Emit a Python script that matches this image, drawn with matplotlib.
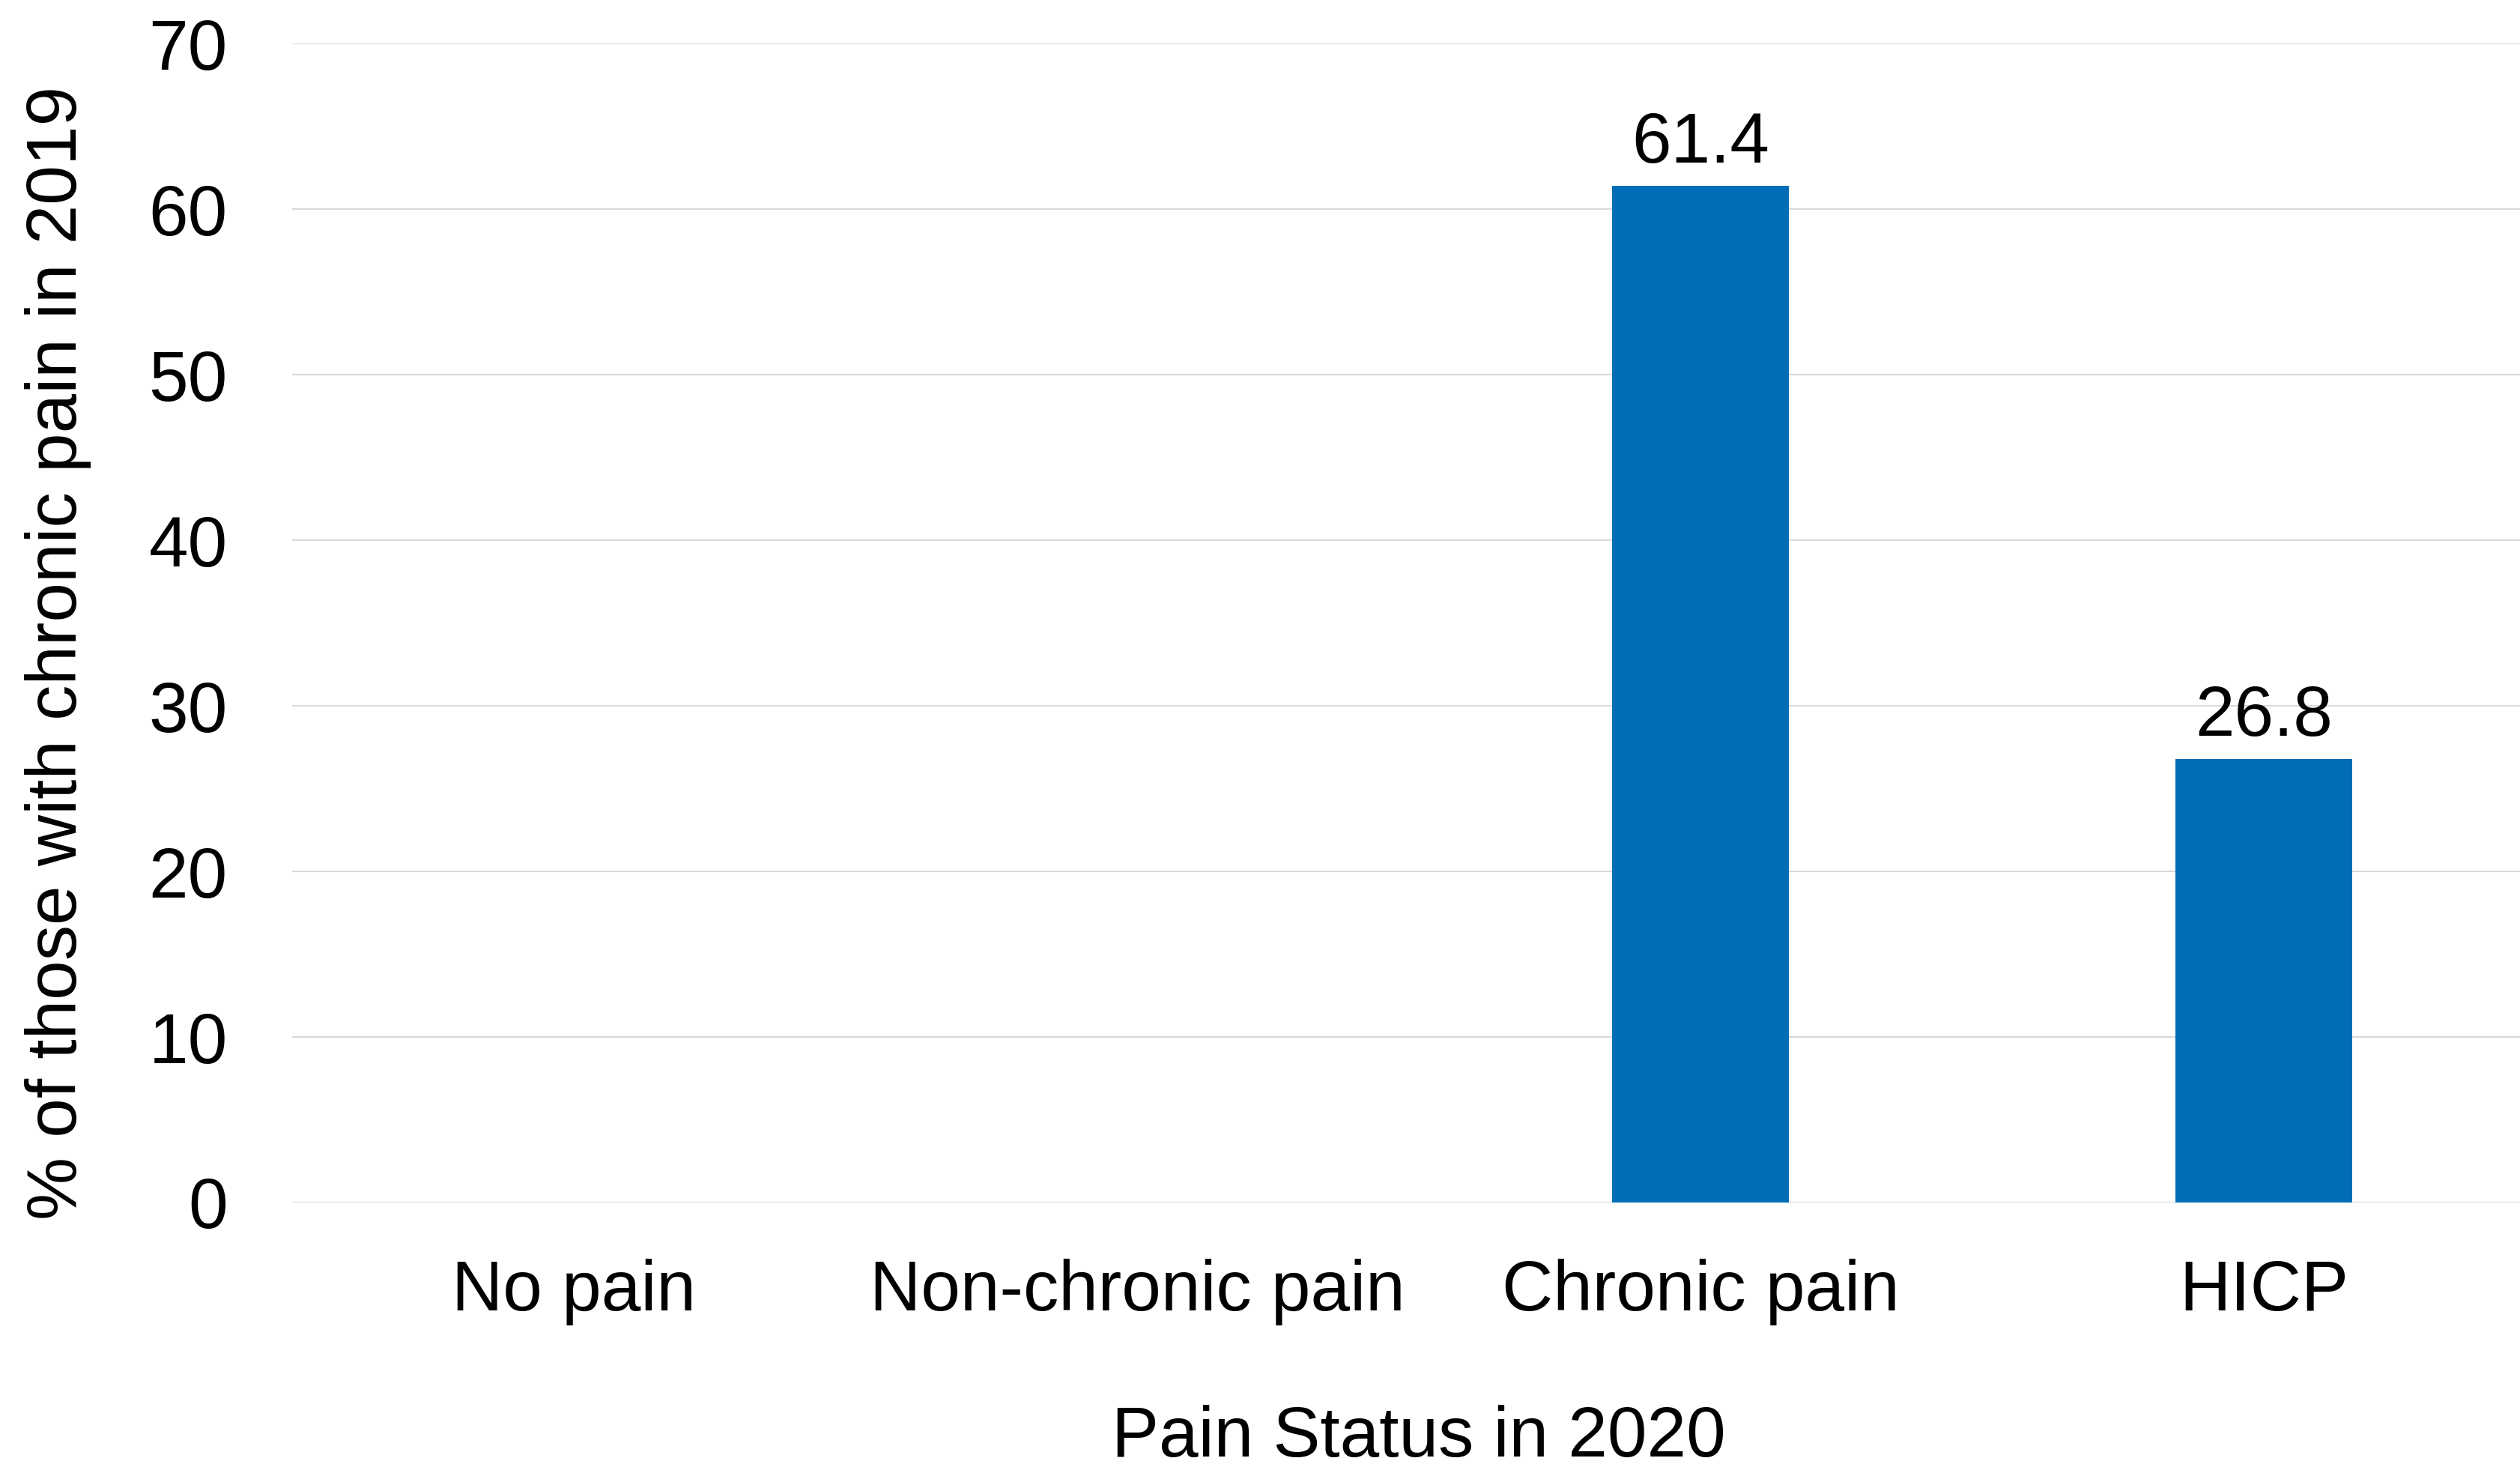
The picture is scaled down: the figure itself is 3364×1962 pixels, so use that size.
"""Bar chart of 2020 pain status among those with chronic pain in 2019."""
import matplotlib

matplotlib.use("Agg")
import matplotlib.pyplot as plt

# %% Data
categories = ["No pain", "Non-chronic pain", "Chronic pain", "HICP"]
percent = [0.0, 0.0, 61.4, 26.8]
y_ticks = [0, 10, 20, 30, 40, 50, 60, 70]

bar_color = "#006EB6"
grid_color = "#D9D9D9"
font_size = 68

plt.rcParams["font.family"] = ["Liberation Sans", "DejaVu Sans"]

# %% Figure
fig = plt.figure(figsize=(33.64, 19.62), dpi=100)
ax = fig.add_axes([390 / 3364, 1 - 1605 / 1962, 3008 / 3364, (1605 - 58) / 1962])

x = range(len(categories))
bars = ax.bar(x, percent, width=0.314, color=bar_color, zorder=3)

# label only the bars that carry a value
labels = [f"{v:.1f}" if v > 0 else "" for v in percent]
ax.bar_label(bars, labels=labels, padding=8, fontsize=font_size, color="black")

ax.set_xlim(-0.5, len(categories) - 0.5)
ax.set_ylim(0, 70)
ax.set_yticks(y_ticks)
ax.set_xticks(list(x))
ax.set_xticklabels(categories)

ax.tick_params(axis="y", length=0, pad=62, labelsize=font_size)
ax.tick_params(axis="x", length=0, pad=54, labelsize=font_size)

ax.yaxis.grid(True, color=grid_color, linewidth=1.5, zorder=0)
ax.set_axisbelow(True)
for side in ["top", "right", "left", "bottom"]:
    ax.spines[side].set_visible(False)

ax.set_xlabel("Pain Status in 2020", fontsize=font_size, labelpad=76)
ax.set_ylabel("% of those with chronic pain in 2019", fontsize=font_size)
ax.yaxis.set_label_coords(-(390 - 122) / 3008, 0.474)

fig.savefig("out.png", dpi=100)
